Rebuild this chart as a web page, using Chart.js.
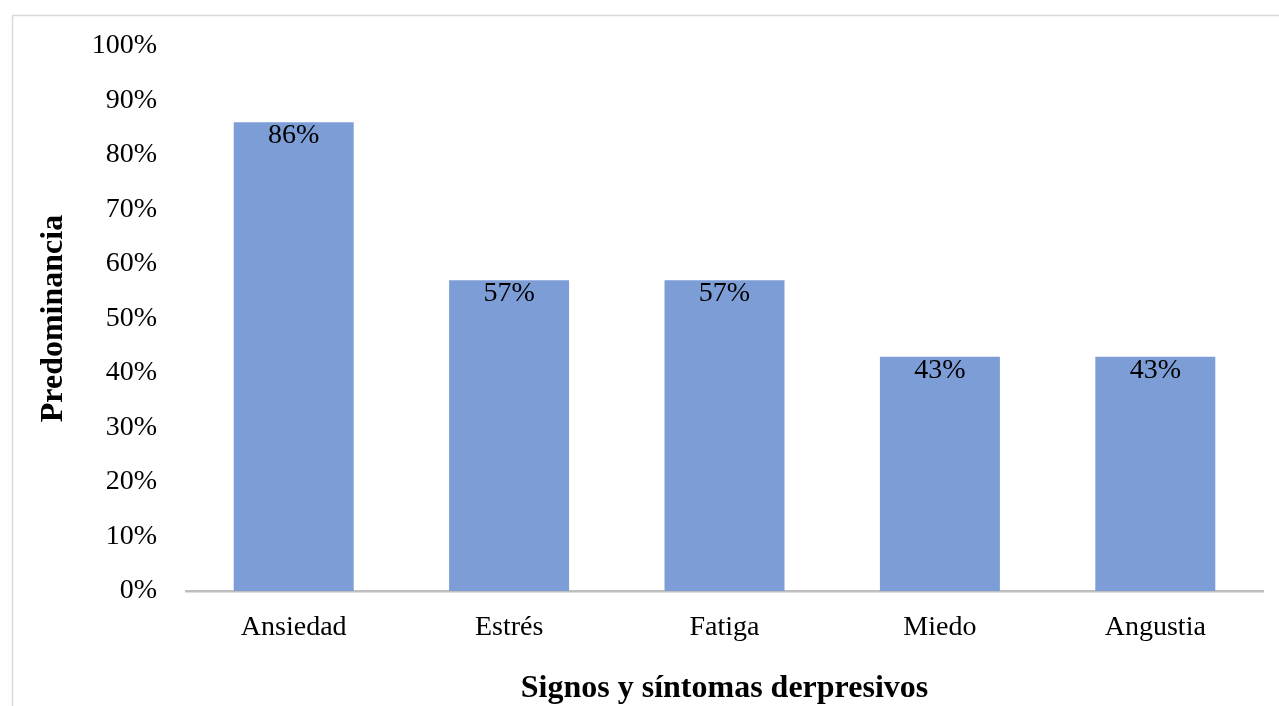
<!DOCTYPE html>
<html>
<head>
<meta charset="utf-8">
<script src="https://cdn.jsdelivr.net/npm/chart.js@4/dist/chart.umd.min.js"></script>
<style>
  html, body { margin: 0; padding: 0; background: #ffffff; }
  #wrap { position: relative; width: 1279px; height: 706px; }
</style>
</head>
<body>
<div id="wrap"><canvas id="c" width="1279" height="706"></canvas></div>
<script>
// Prevalence of depressive signs and symptoms
const categories = ['Ansiedad', 'Estrés', 'Fatiga', 'Miedo', 'Angustia'];
const values = [86, 57, 57, 43, 43];
const yTicks = [0, 10, 20, 30, 40, 50, 60, 70, 80, 90, 100];

const SERIF = "'Liberation Serif', 'Times New Roman', serif";
const BAR_COLOR = '#7c9dd6';

// Light frame around the whole figure
const framePlugin = {
  id: 'frame',
  beforeDraw(chart) {
    const ctx = chart.ctx;
    ctx.save();
    ctx.strokeStyle = '#d9d9d9';
    ctx.lineWidth = 1.5;
    ctx.strokeRect(12.5, 15.5, 1300, 800);
    ctx.restore();
  }
};

// Percentage labels just inside the top of each bar
const valueLabels = {
  id: 'valueLabels',
  afterDatasetsDraw(chart) {
    const ctx = chart.ctx;
    const meta = chart.getDatasetMeta(0);
    ctx.save();
    ctx.font = '28px ' + SERIF;
    ctx.fillStyle = '#000000';
    ctx.textAlign = 'center';
    ctx.textBaseline = 'alphabetic';
    meta.data.forEach((bar, i) => {
      ctx.fillText(values[i] + '%', bar.x, bar.y + 21);
    });
    ctx.restore();
  }
};

new Chart(document.getElementById('c'), {
  type: 'bar',
  data: {
    labels: categories,
    datasets: [{
      data: values,
      backgroundColor: BAR_COLOR,
      borderWidth: 0,
      categoryPercentage: 1,
      barPercentage: 0.557
    }]
  },
  options: {
    responsive: false,
    animation: false,
    devicePixelRatio: 1,
    layout: { padding: { left: 30, right: 16, top: 46, bottom: 0 } },
    plugins: {
      legend: { display: false },
      tooltip: { enabled: false }
    },
    scales: {
      x: {
        grid: { display: false, drawTicks: false },
        border: { display: true, color: '#bfbfbf', width: 2.5 },
        ticks: {
          color: '#000000',
          font: { family: SERIF, size: 28 },
          padding: 20
        },
        title: {
          display: true,
          text: 'Signos y síntomas derpresivos',
          color: '#000000',
          font: { family: SERIF, size: 32, weight: 'bold', lineHeight: 1.1 },
          padding: { top: 0, bottom: 0 }
        },
        afterFit(scale) { scale.height = 115; }
      },
      y: {
        min: 0,
        max: 100,
        grid: { display: false, drawTicks: false },
        border: { display: false },
        afterBuildTicks(scale) {
          scale.ticks = yTicks.map(v => ({ value: v }));
        },
        ticks: {
          color: '#000000',
          font: { family: SERIF, size: 28 },
          padding: 29,
          callback: v => v + '%'
        },
        title: {
          display: true,
          text: 'Predominancia',
          color: '#000000',
          font: { family: SERIF, size: 32, weight: 'bold' },
          padding: { top: 5, bottom: 0 }
        },
        afterFit(scale) { scale.width = 156; }
      }
    }
  },
  plugins: [framePlugin, valueLabels]
});
</script>
</body>
</html>
